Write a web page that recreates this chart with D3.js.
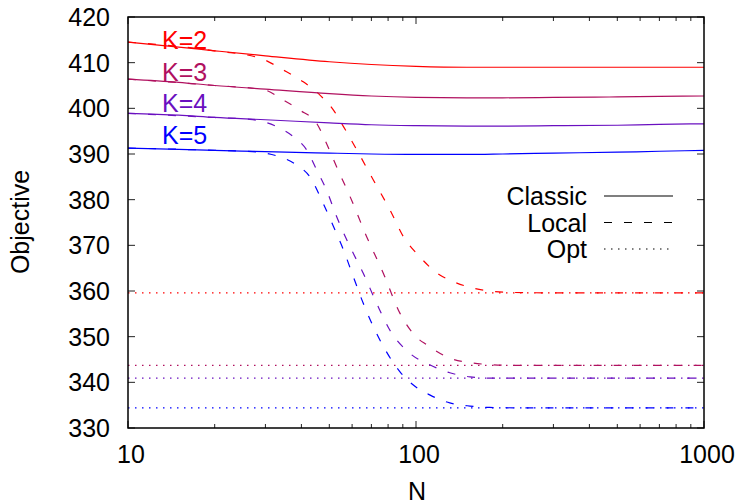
<!DOCTYPE html>
<html><head><meta charset="utf-8">
<script src="https://cdn.jsdelivr.net/npm/d3@7"></script>
<style>body{margin:0;background:#fff}svg{display:block}text{font-family:"Liberation Sans",Arial,sans-serif}</style>
</head><body><svg id="c" width="739" height="504"></svg>
<script>
const xTicks = [10, 100, 1000];
const yTicks = [330, 340, 350, 360, 370, 380, 390, 400, 410, 420];
const seriesNames = ["K=2", "K=3", "K=4", "K=5"];
const colors = ["#ff0000", "#b0105f", "#6a10c0", "#0000ff"];

// Classic (solid)
const classicN = [10, 15, 20, 30, 50, 70, 100, 150, 200, 300, 500, 700, 1000];
const classicK2 = [414.5, 413.4, 412.6, 411.5, 410.2, 409.6, 409.2, 409.0, 409.0, 409.0, 409.0, 409.0, 409.0];
const classicK3 = [406.4, 405.7, 405.0, 404.2, 403.2, 402.7, 402.4, 402.3, 402.3, 402.4, 402.5, 402.6, 402.7];
const classicK4 = [398.9, 398.5, 398.0, 397.5, 396.8, 396.4, 396.2, 396.1, 396.1, 396.2, 396.3, 396.5, 396.6];
const classicK5 = [391.3, 391.0, 390.8, 390.5, 390.2, 390.0, 389.9, 389.9, 390.0, 390.2, 390.4, 390.6, 390.8];

// Local (dashed)
const localK2N = [10, 20, 29, 34.6, 40.6, 46.4, 51.7, 56, 62.3, 71.1, 81.3, 90.4, 103, 121, 131, 150, 180, 210, 300, 500, 1000];
const localK2 = [414.5, 412.6, 410.9, 408.4, 405.8, 402.9, 399.6, 396.0, 390.9, 384.3, 377.7, 371.9, 367.5, 363.5, 362.4, 361.0, 360.0, 359.7, 359.6, 359.6, 359.6];
const localK3N = [10, 20, 29.5, 34.6, 39.5, 45.2, 48.9, 53, 59, 67.4, 77, 88, 100, 109, 131, 154, 180, 220, 300, 1000];
const localK3 = [406.4, 405.0, 404.1, 401.8, 399.6, 396.7, 392.3, 387.2, 380.7, 371.9, 363.9, 355.1, 350.0, 348.2, 345.3, 344.3, 343.9, 343.7, 343.7, 343.7];
const localK4N = [10, 20, 26.5, 32.8, 37.5, 41.7, 45.2, 48.9, 53, 59, 65.6, 73, 81, 95, 112, 131, 154, 190, 300, 1000];
const localK4 = [398.9, 398.0, 397.6, 396.0, 393.8, 390.9, 386.5, 382.1, 376.3, 369.7, 363.9, 357.3, 351.5, 346.4, 343.8, 342.1, 341.2, 340.9, 340.9, 340.9];
const localK5N = [10, 20, 27, 32.8, 38.5, 42.8, 47.6, 51.7, 56, 60.6, 65.6, 73, 88, 97.9, 112, 131, 154, 180, 250, 1000];
const localK5 = [391.3, 390.8, 390.5, 389.6, 387.6, 385.0, 379.2, 374.1, 369.0, 363.1, 357.3, 350.7, 342.3, 339.4, 337.2, 335.5, 334.8, 334.5, 334.4, 334.4];

// Opt (dotted)
const optN = [10, 1000];
const optK2 = [359.6, 359.6];
const optK3 = [343.7, 343.7];
const optK4 = [340.9, 340.9];
const optK5 = [334.4, 334.4];

const legendNames = ["Classic", "Local", "Opt"];

const svg = d3.select("#c");
const L = 128, R = 704, T = 17, B = 428;
const x = d3.scaleLog().domain([10, 1000]).range([L, R]);
const y = d3.scaleLinear().domain([330, 420]).range([B, T]);
const font = 25;

const minorX = [];
for (const d of [10, 100]) for (let k = 2; k <= 9; k++) minorX.push(d * k);

const tickStroke = "#222";
function drawXTicks(yPos, dir) {
  const g = svg.append("g");
  g.selectAll("line.maj").data(xTicks).join("line")
    .attr("x1", d => x(d)).attr("x2", d => x(d))
    .attr("y1", yPos).attr("y2", yPos + dir * 7).attr("stroke", tickStroke).attr("stroke-width", 1);
  g.selectAll("line.min").data(minorX).join("line")
    .attr("x1", d => x(d)).attr("x2", d => x(d))
    .attr("y1", yPos).attr("y2", yPos + dir * 4).attr("stroke", tickStroke).attr("stroke-width", 1);
}
function drawYTicks(xPos, dir) {
  svg.append("g").selectAll("line").data(yTicks).join("line")
    .attr("x1", xPos).attr("x2", xPos + dir * 7)
    .attr("y1", d => y(d)).attr("y2", d => y(d)).attr("stroke", tickStroke).attr("stroke-width", 1);
}
drawXTicks(B, -1); drawXTicks(T, 1);
drawYTicks(L, 1); drawYTicks(R, -1);

svg.append("g").selectAll("text").data(xTicks).join("text")
  .attr("x", d => x(d) + 3).attr("y", 463).attr("text-anchor", "middle")
  .attr("font-size", font).attr("fill", "#000").text(d => d);
svg.append("g").selectAll("text").data(yTicks).join("text")
  .attr("x", 110).attr("y", d => y(d) + 9).attr("text-anchor", "end")
  .attr("font-size", font).attr("fill", "#000").text(d => d);

svg.append("text").attr("x", 417).attr("y", 500).attr("text-anchor", "middle")
  .attr("font-size", font).text("N");
svg.append("text").attr("transform", "translate(29,222) rotate(-90)").attr("text-anchor", "middle")
  .attr("font-size", font).text("Objective");

const line = d3.line().x(d => x(d[0])).y(d => y(d[1])).curve(d3.curveMonotoneX);
const zip = (a, b) => a.map((v, i) => [v, b[i]]);

const opt = [optK2, optK3, optK4, optK5];
const local = [[localK2N, localK2], [localK3N, localK3], [localK4N, localK4], [localK5N, localK5]];
const classic = [classicK2, classicK3, classicK4, classicK5];

const plot = svg.append("g");
opt.forEach((v, i) => plot.append("path").attr("d", line(zip(optN, v)))
  .attr("fill", "none").attr("stroke", colors[i]).attr("stroke-width", 1.2).attr("stroke-dasharray", "1.5,5.5"));
local.forEach((v, i) => plot.append("path").attr("d", line(zip(v[0], v[1])))
  .attr("fill", "none").attr("stroke", colors[i]).attr("stroke-width", 1.2).attr("stroke-dasharray", "8,12"));
classic.forEach((v, i) => plot.append("path").attr("d", line(zip(classicN, v)))
  .attr("fill", "none").attr("stroke", colors[i]).attr("stroke-width", 1.2));

const labelY = [49, 81, 112, 144];
svg.append("g").selectAll("text").data(seriesNames).join("text")
  .attr("x", 162).attr("y", (d, i) => labelY[i]).attr("font-size", font)
  .attr("fill", (d, i) => colors[i]).text(d => d);

const dashes = [null, "8,12", "1.5,5.5"];
const lg = svg.append("g");
legendNames.forEach((n, i) => {
  const yy = 196 + i * 26.5;
  lg.append("text").attr("x", 587).attr("y", yy + 9).attr("text-anchor", "end")
    .attr("font-size", font).text(n);
  lg.append("line").attr("x1", 604).attr("x2", 673).attr("y1", yy).attr("y2", yy)
    .attr("stroke", "#000").attr("stroke-width", 1.2).attr("stroke-dasharray", dashes[i]);
});

svg.append("rect").attr("x", L).attr("y", T).attr("width", R - L).attr("height", B - T)
  .attr("fill", "none").attr("stroke", "#000").attr("stroke-width", 1.5);
</script></body></html>
